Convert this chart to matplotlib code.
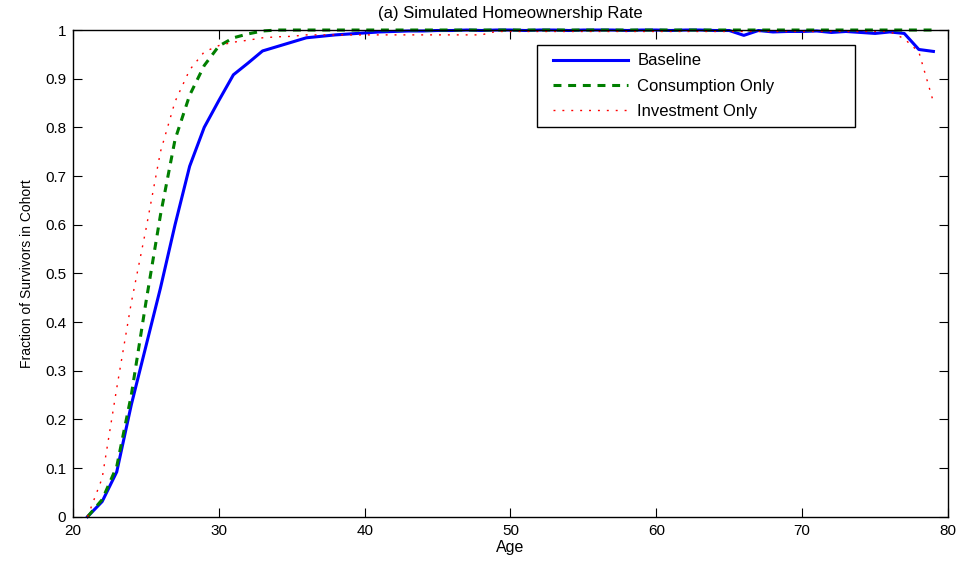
import matplotlib
matplotlib.use('Agg')
import matplotlib.pyplot as plt
from matplotlib.legend_handler import HandlerLine2D
import numpy as np

ages = np.arange(21, 80)

baseline = [0.0, 0.031, 0.092, 0.23, 0.35, 0.47, 0.60, 0.72, 0.80, 0.855,
            0.908, 0.932, 0.957, 0.966, 0.975, 0.984, 0.987, 0.990, 0.992, 0.994,
            0.996, 0.997, 0.998, 0.998, 0.999, 0.999, 1.0, 0.999, 1.0, 1.0,
            0.999, 1.0, 1.0, 0.999, 1.0, 1.0, 1.0, 0.999, 1.0, 1.0,
            0.999, 1.0, 1.0, 0.999, 0.999, 0.989, 0.999, 0.996, 0.997, 0.997,
            0.998, 0.995, 0.997, 0.995, 0.993, 0.996, 0.993, 0.960, 0.956]

consumption = [0.0, 0.035, 0.103, 0.25, 0.44, 0.62, 0.775, 0.866, 0.927, 0.967,
               0.984, 0.992, 0.998] + [1.0] * 46

investment = ([0.0, 0.079, 0.264, 0.44, 0.59, 0.75, 0.853, 0.918, 0.955, 0.968,
               0.975, 0.979, 0.984, 0.986, 0.987, 0.990]
              + [0.990] * 12 + [0.997] * 28 + [0.982, 0.955, 0.852])

xticks = [20, 30, 40, 50, 60, 70, 80]
yticks = [0, 0.1, 0.2, 0.3, 0.4, 0.5, 0.6, 0.7, 0.8, 0.9, 1]
ytick_labels = ['0', '0.1', '0.2', '0.3', '0.4', '0.5', '0.6', '0.7', '0.8', '0.9', '1']

plt.rcParams['font.family'] = ['Liberation Sans', 'DejaVu Sans']

fig = plt.figure(figsize=(9.64, 5.61), dpi=100)
ax = fig.add_axes([0.0757, 0.079, 0.9077, 0.8675])

ax.plot(ages, baseline, color='#0000ff', lw=2.2, label='Baseline', clip_on=False)
ax.plot(ages, consumption, color='#007f00', lw=2.2, dashes=(2.6, 2.2),
        label='Consumption Only', clip_on=False)
ax.plot(ages, investment, color='#ff0000', lw=1.0, dashes=(1.4, 5.0),
        label='Investment Only', clip_on=False)

ax.set_xlim(20, 80)
ax.set_ylim(0, 1)
ax.set_xticks(xticks)
ax.set_yticks(yticks)
ax.set_yticklabels(ytick_labels)
ax.tick_params(direction='in', length=6.5, width=0.8, top=True, right=True,
               labelsize=11, color='black')
ax.tick_params(axis='x', pad=5.5)
ax.tick_params(axis='y', pad=5)
for sp in ax.spines.values():
    sp.set_linewidth(1.0)

ax.set_title('(a) Simulated Homeownership Rate', fontsize=12, pad=9)
ax.set_xlabel('Age', fontsize=11.5, labelpad=1)
ax.set_ylabel('Fraction of Survivors in Cohort', fontsize=10, labelpad=8)

hmap = {ln: HandlerLine2D(xpad=0.5) for ln in ax.get_lines()}
leg = ax.legend(loc='upper left', bbox_to_anchor=(0.530, 0.803, 0.3634, 0.166),
                mode='expand', fontsize=12, handlelength=5.0, handletextpad=0.54,
                labelspacing=0.62, borderpad=0.5, borderaxespad=0,
                fancybox=False, framealpha=1, handler_map=hmap)
leg.get_frame().set_edgecolor('black')
leg.get_frame().set_linewidth(1.0)

fig.savefig('out.png', dpi=100)
